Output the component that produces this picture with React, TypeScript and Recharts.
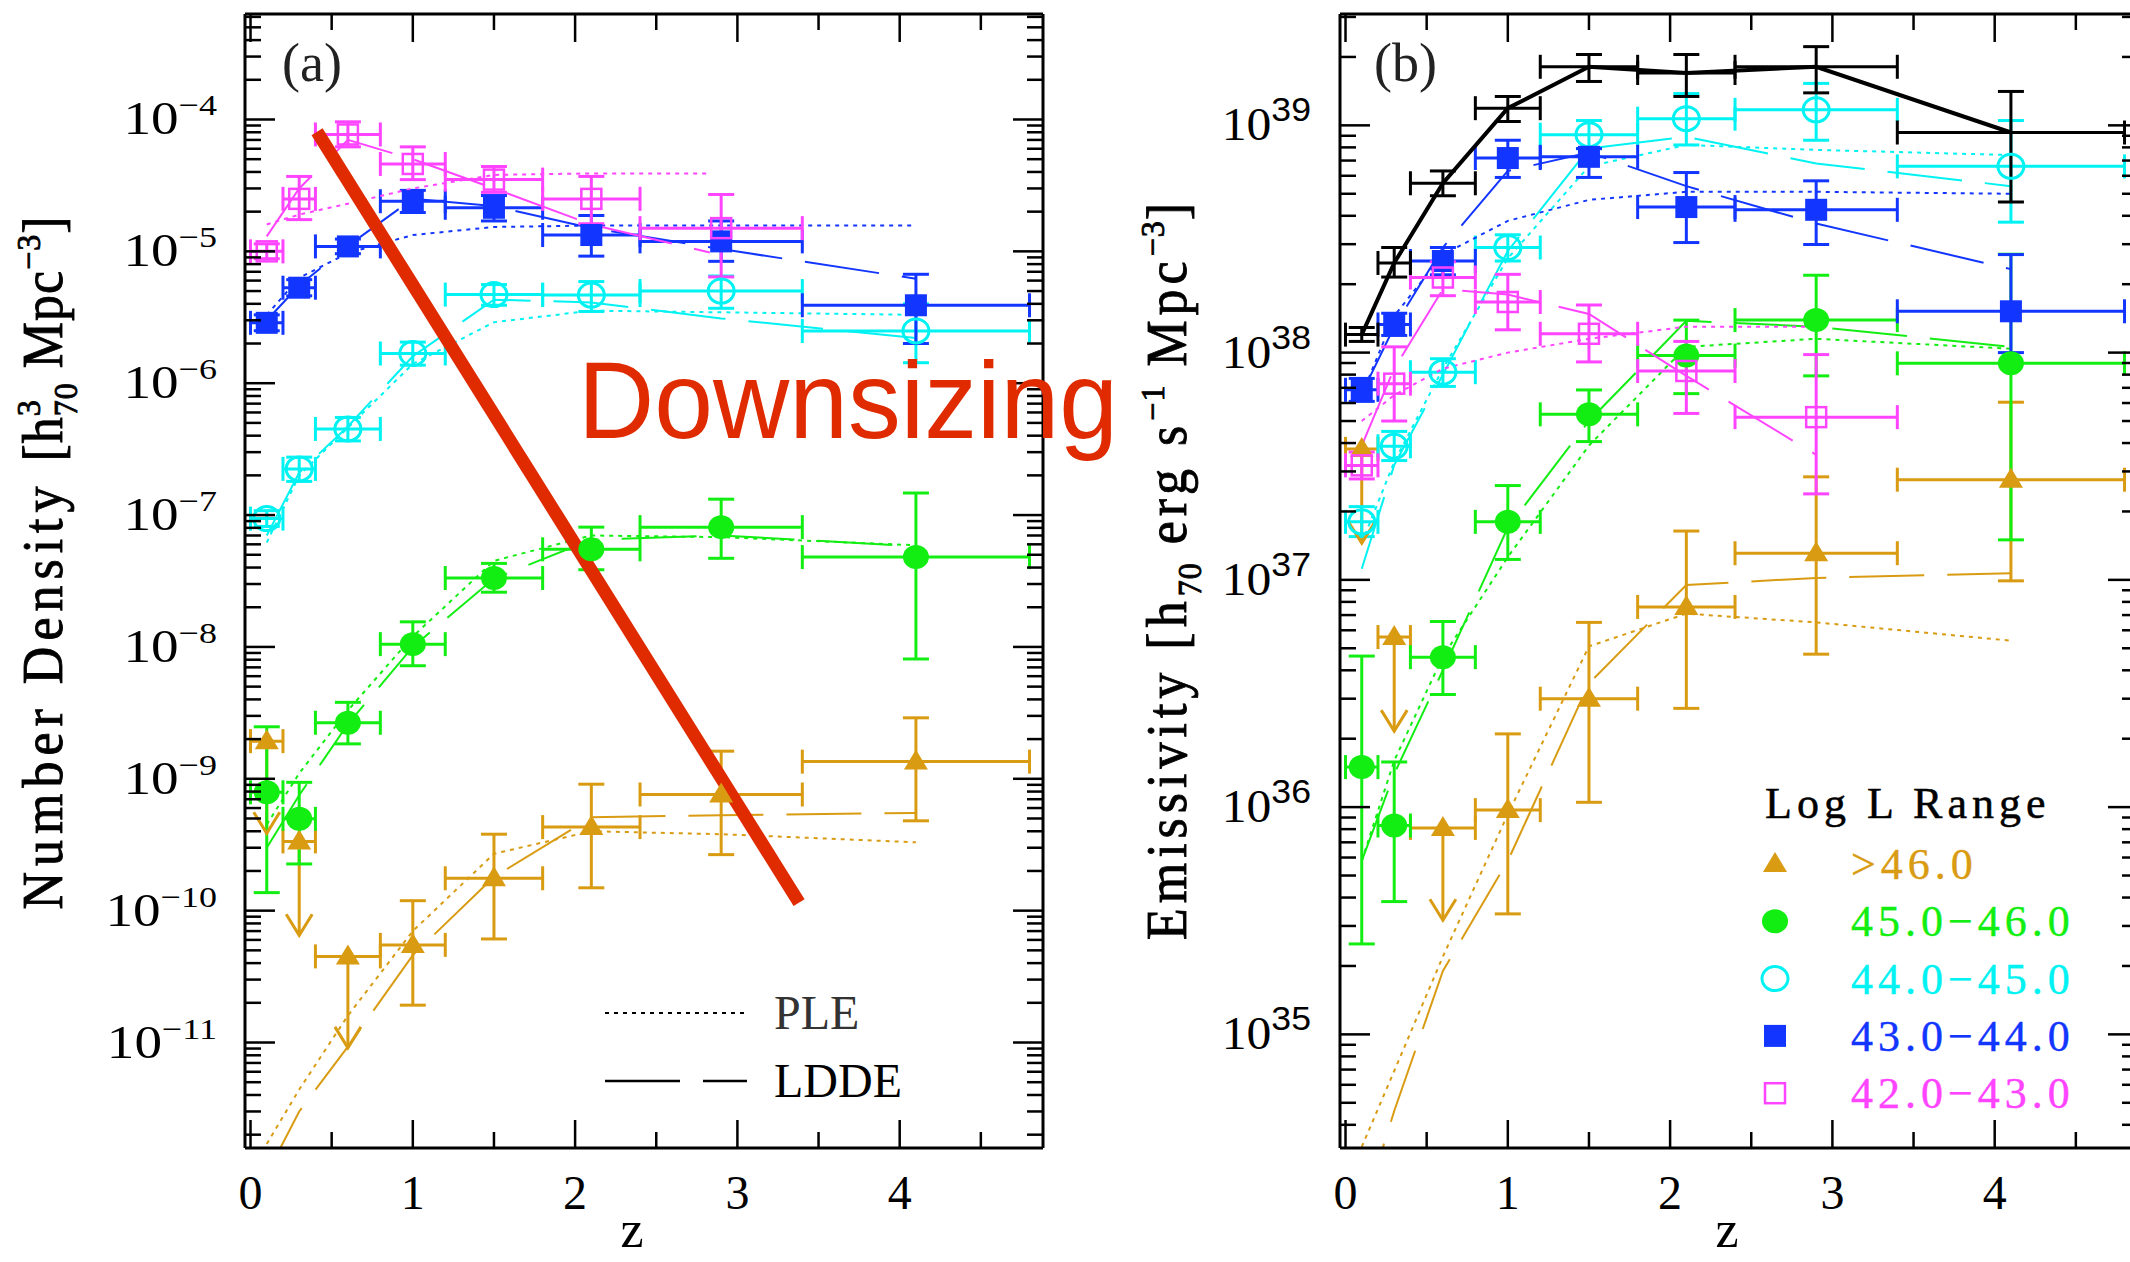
import React from "react";
import { ComposedChart, Scatter, Line, XAxis, YAxis, ErrorBar } from "recharts";

// redshift bins shared by every luminosity band
const zMid = [0.1, 0.3, 0.6, 1.0, 1.5, 2.1, 2.9, 4.1];
const zLo = [0, 0.2, 0.4, 0.8, 1.2, 1.8, 2.4, 3.4];
const zHi = [0.2, 0.4, 0.8, 1.2, 1.8, 2.4, 3.4, 4.8];
const zModel = [0.1, 0.3, 0.6, 1.0, 1.5, 2.1, 2.9, 4.1];
const zModel42a = [0.1, 0.3, 0.6, 1.0, 1.5, 2.1, 2.83];
const zModel42b = [0.1, 0.3, 0.6, 1.0, 1.5, 2.1, 2.9];
const upperLim46 = [true, true, true, false, false, false, false, false];

// (a) number density
const nd42 = [1.0e-5, 2.5e-5, 7.7e-5, 4.6e-5, 3.5e-5, 2.5e-5, 1.5e-5];
const nd42Lo = [8.8e-6, 1.74e-5, 6.2e-5, 3.5e-5, 2.8e-5, 1.62e-5, 6.4e-6];
const nd42Hi = [1.14e-5, 3.7e-5, 9.6e-5, 6.2e-5, 4.4e-5, 3.7e-5, 2.7e-5];
const nd43 = [2.87e-6, 5.3e-6, 1.09e-5, 2.4e-5, 2.14e-5, 1.33e-5, 1.19e-5, 3.9e-6];
const nd43Lo = [2.5e-6, 4.6e-6, 9.6e-6, 1.97e-5, 1.7e-5, 9.2e-6, 8.4e-6, 2.0e-6];
const nd43Hi = [3.3e-6, 6.1e-6, 1.24e-5, 2.9e-5, 2.65e-5, 1.87e-5, 1.7e-5, 6.7e-6];
const nd44 = [9.4e-8, 2.24e-7, 4.5e-7, 1.68e-6, 4.7e-6, 4.66e-6, 5.0e-6, 2.49e-6];
const nd44Lo = [8.2e-8, 1.8e-7, 3.65e-7, 1.37e-6, 3.9e-6, 3.5e-6, 3.7e-6, 1.43e-6];
const nd44Hi = [1.08e-7, 2.75e-7, 5.5e-7, 2.05e-6, 5.6e-6, 5.9e-6, 6.5e-6, 4.0e-6];
const nd45 = [7.9e-10, 4.97e-10, 2.66e-9, 1.05e-8, 3.33e-8, 5.5e-8, 8.1e-8, 4.8e-8];
const nd45Lo = [1.37e-10, 2.26e-10, 1.84e-9, 7.2e-9, 2.6e-8, 3.85e-8, 4.7e-8, 8.1e-9];
const nd45Hi = [2.48e-9, 9.4e-10, 3.8e-9, 1.55e-8, 4.3e-8, 8.1e-8, 1.32e-7, 1.47e-7];
const nd46 = [1.93e-9, 3.35e-10, 4.5e-11, 5.5e-11, 1.76e-10, 4.3e-10, 7.6e-10, 1.35e-9];
const nd46Lo = [3.86e-10, 6.5e-11, 9.1e-12, 1.92e-11, 6.1e-11, 1.49e-10, 2.66e-10, 4.8e-10];
const nd46Hi = [1.93e-9, 3.35e-10, 4.5e-11, 1.19e-10, 3.8e-10, 9.1e-10, 1.62e-9, 2.9e-9];

const ple42 = [1.6e-5, 1.9e-5, 2.3e-5, 3.0e-5, 3.8e-5, 3.9e-5, 3.9e-5];
const ldde42 = [1.3e-5, 3.0e-5, 7.0e-5, 5.0e-5, 3.0e-5, 1.6e-5, 9.8e-6];
const ple43 = [3.3e-6, 6.3e-6, 9.7e-6, 1.33e-5, 1.53e-5, 1.57e-5, 1.57e-5, 1.57e-5];
const ldde43 = [3.0e-6, 5.5e-6, 1.1e-5, 2.5e-5, 2.2e-5, 1.5e-5, 1.04e-5, 6.2e-6];
const ple44 = [6.2e-8, 2.0e-7, 4.6e-7, 1.4e-6, 2.9e-6, 3.55e-6, 3.45e-6, 3.3e-6];
const ldde44 = [7.0e-8, 2.1e-7, 4.7e-7, 1.6e-6, 4.3e-6, 4.1e-6, 3.1e-6, 2.2e-6];
const ple45 = [4.5e-10, 1.1e-9, 3.3e-9, 1.2e-8, 4.5e-8, 7.0e-8, 6.8e-8, 5.9e-8];
const ldde45 = [3.0e-10, 7.5e-10, 2.6e-9, 1.0e-8, 3.3e-8, 6.5e-8, 7.0e-8, 5.8e-8];
const ple46 = [1.7e-12, 4.4e-12, 1.6e-11, 7.0e-11, 2.7e-10, 4.0e-10, 3.8e-10, 3.3e-10];
const ldde46 = [1.0e-12, 3.0e-12, 9.3e-12, 4.6e-11, 1.8e-10, 5.1e-10, 5.3e-10, 5.5e-10];

const downZ = [0.41, 3.38];
const downV = [8.07e-5, 1.15e-10];

// (b) emissivity
const emTot = [1.2e38, 2.48e38, 5.56e38, 1.19e39, 1.81e39, 1.7e39, 1.81e39, 9.3e38];
const emTotLo = [1.12e38, 2.15e38, 4.9e38, 1.04e39, 1.56e39, 1.34e39, 1.39e39, 4.6e38];
const emTotHi = [1.29e38, 2.9e38, 6.3e38, 1.34e39, 2.05e39, 2.05e39, 2.22e39, 1.41e39];
const em42 = [3.19e37, 7.3e37, 2.14e38, 1.67e38, 1.21e38, 8.3e37, 5.2e37];
const em42Lo = [2.78e37, 5.0e37, 1.78e38, 1.26e38, 9.1e37, 5.4e37, 2.39e37];
const em42Hi = [3.65e37, 1.06e38, 2.51e38, 2.21e38, 1.62e38, 1.12e38, 9.8e37];
const em43 = [6.86e37, 1.33e38, 2.53e38, 7.18e38, 7.27e38, 4.37e38, 4.25e38, 1.52e38];
const em43Lo = [6.1e37, 1.19e38, 2.2e38, 5.9e38, 5.9e38, 3.05e38, 2.99e38, 1.0e38];
const em43Hi = [7.7e37, 1.49e38, 2.9e38, 8.6e38, 7.9e38, 6.2e38, 5.7e38, 2.7e38];
const em44 = [1.8e37, 3.87e37, 8.2e37, 2.9e38, 9.1e38, 1.07e39, 1.17e39, 6.6e38];
const em44Lo = [1.55e37, 3.35e37, 7.1e37, 2.53e38, 7.9e38, 8.2e38, 8.6e38, 3.75e38];
const em44Hi = [2.1e37, 4.5e37, 9.4e37, 3.3e38, 1.05e39, 1.38e39, 1.53e39, 1.05e39];
const em45 = [1.5e36, 8.3e35, 4.57e36, 1.8e37, 5.35e37, 9.7e37, 1.39e38, 8.97e37];
const em45Lo = [2.5e35, 3.84e35, 3.13e36, 1.23e37, 4.06e37, 6.6e37, 7.9e37, 1.5e37];
const em45Hi = [4.62e36, 1.58e36, 6.56e36, 2.6e37, 6.85e37, 1.39e38, 2.19e38, 2.71e38];
const em46 = [3.77e37, 5.6e36, 8.1e35, 9.7e35, 3.0e36, 7.6e36, 1.31e37, 2.76e37];
const em46Lo = [1.45e37, 2.16e36, 3.18e35, 3.39e35, 1.05e36, 2.72e36, 4.71e36, 9.9e36];
const em46Hi = [3.77e37, 5.6e36, 8.1e35, 2.1e36, 6.5e36, 1.64e37, 2.84e37, 6.05e37];

const ple42b = [5.0e37, 6.5e37, 8.5e37, 1.0e38, 1.15e38, 1.3e38, 1.3e38];
const ldde42b = [3.9e37, 8.5e37, 1.9e38, 1.8e38, 1.48e38, 7.9e37, 3.55e37];
const ple43b = [6.5e37, 1.45e38, 2.7e38, 3.8e38, 4.7e38, 5.1e38, 5.1e38, 5.0e38];
const ldde43b = [6.6e37, 1.3e38, 2.9e38, 6.3e38, 7.6e38, 5.4e38, 3.7e38, 2.33e38];
const ple44b = [1.45e37, 3.3e37, 8.5e37, 2.6e38, 6.6e38, 8.2e38, 7.8e38, 7.4e38];
const ldde44b = [1.12e37, 3.2e37, 8.0e37, 2.8e38, 7.9e38, 8.9e38, 6.8e38, 5.4e38];
const ple45b = [5.8e35, 1.6e36, 4.6e36, 1.26e37, 3.9e37, 1.06e38, 1.15e38, 1.04e38];
const ldde45b = [5.8e35, 1.4e36, 4.0e36, 1.7e37, 5.0e37, 1.38e38, 1.3e38, 1.06e38];
const ple46b = [3.2e34, 6.9e34, 2.2e35, 9.3e35, 5.1e36, 7.1e36, 6.5e36, 5.4e36];
const ldde46b = [1.6e34, 4.6e34, 1.9e35, 5.8e35, 3.5e36, 9.5e36, 1.02e37, 1.07e37];

const xTicks = [0, 0.5, 1, 1.5, 2, 2.5, 3, 3.5, 4, 4.5];
const decadesA = [-12, -11, -10, -9, -8, -7, -6, -5, -4, -3];
const decadesB = [34, 35, 36, 37, 38, 39];
const legendLabels = [">46.0", "45.0\u221246.0", "44.0\u221245.0", "43.0\u221244.0", "42.0\u221243.0"];

const C46 = "#d99b12";
const C45 = "#12ee12";
const C44 = "#00f2f2";
const C43 = "#1236ff";
const C42 = "#ff44ff";
const RED = "#e02a00";
const SERIF = "'Liberation Serif', serif";

const X_DOMAIN = [-0.034, 4.883];
const A_DOMAIN = [10 ** -11.8, 10 ** -3.2];
const B_DOMAIN = [10 ** 34.5, 10 ** 39.49];

const minorTicks = (decs, dom) =>
  decs
    .flatMap((d) => [1, 2, 3, 4, 5, 6, 7, 8, 9].map((m) => m * 10 ** d))
    .filter((t) => t >= dom[0] && t <= dom[1]);

const isDecade = (v) => Math.abs(Math.log10(v) - Math.round(Math.log10(v))) < 1e-6;

function points(v, lo, hi, lim?) {
  return v.map((val, i) => ({
    z: zMid[i],
    v: val,
    ey: lim && lim[i] ? null : [val - lo[i], hi[i] - val],
    ex: [zMid[i] - zLo[i], zHi[i] - zMid[i]],
  }));
}

const curve = (zs, vs) => zs.map((z, i) => ({ z, v: vs[i] }));

function Marker({ kind, color, cx, cy }) {
  if (cx == null || cy == null) return <g />;
  if (kind === "tri")
    return <polygon points={`${cx},${cy - 12} ${cx - 12},${cy + 8} ${cx + 12},${cy + 8}`} fill={color} />;
  if (kind === "dot") return <ellipse cx={cx} cy={cy} rx={13} ry={12} fill={color} />;
  if (kind === "ring")
    return <ellipse cx={cx} cy={cy} rx={13} ry={12} fill="none" stroke={color} strokeWidth={3} />;
  if (kind === "sq") return <rect x={cx - 11} y={cy - 11} width={22} height={22} fill={color} />;
  if (kind === "osq")
    return <rect x={cx - 10} y={cy - 10} width={20} height={20} fill="none" stroke={color} strokeWidth={2.5} />;
  return <g />;
}

function bandItems(key, b) {
  const items = [];
  const ax = { xAxisId: "b", yAxisId: "l", isAnimationActive: false };
  items.push(
    <Line key={key + "ple"} {...ax} data={curve(b.zm, b.ple)} dataKey="v" stroke={b.color}
      strokeWidth={2} strokeDasharray="4 5" dot={false} activeDot={false} />,
    <Line key={key + "ldde"} {...ax} data={curve(b.zm, b.ldde)} dataKey="v" stroke={b.color}
      strokeWidth={2} strokeDasharray="75 23" dot={false} activeDot={false} />
  );
  if (b.lim) {
    b.lim.forEach((l, i) => {
      if (!l) return;
      items.push(
        <Line key={key + "lim" + i} {...ax}
          data={[{ z: zMid[i], v: b.v[i] }, { z: zMid[i], v: b.lo[i], tip: true }]}
          dataKey="v" stroke={b.color} strokeWidth={3} activeDot={false}
          dot={(p) =>
            p.payload.tip ? (
              <path key={"t" + p.index} d={`M${p.cx - 13},${p.cy - 21} L${p.cx},${p.cy} L${p.cx + 13},${p.cy - 21}`}
                fill="none" stroke={b.color} strokeWidth={3} />
            ) : (
              <g key={"n" + p.index} />
            )
          }
        />
      );
    });
  }
  items.push(
    <Scatter key={key + "pts"} {...ax} data={points(b.v, b.lo, b.hi, b.lim)} dataKey="v"
      shape={(p) => <Marker kind={b.kind} color={b.color} cx={p.cx} cy={p.cy} />}>
      <ErrorBar dataKey="ey" direction="y" width={13} stroke={b.color} strokeWidth={3} isAnimationActive={false} />
      <ErrorBar dataKey="ex" direction="x" width={12} stroke={b.color} strokeWidth={3} isAnimationActive={false} />
    </Scatter>
  );
  return items;
}

function LeftTick({ x, y, payload, expFont, expSize, gap, sx }) {
  const v = payload.value;
  const major = isDecade(v);
  const e = Math.round(Math.log10(v));
  return (
    <g>
      <line x1={x} x2={x + (major ? 30 : 16)} y1={y} y2={y} stroke="#000" strokeWidth={2.5} />
      {major && (
        <text transform={`translate(${x - gap},${y + 15}) scale(${sx},1)`} textAnchor="end"
          fontFamily={SERIF} fontSize={46} fill="#000">
          10
          <tspan dy={-19} fontSize={expSize} fontFamily={expFont}>
            {e < 0 ? "\u2212" + -e : String(e)}
          </tspan>
        </text>
      )}
    </g>
  );
}

function RightTick({ x, y, payload }) {
  const major = isDecade(payload.value);
  return <line x1={x} x2={x - (major ? 30 : 16)} y1={y} y2={y} stroke="#000" strokeWidth={2.5} />;
}

function BottomTick({ x, y, payload }) {
  const v = payload.value;
  const major = Number.isInteger(v);
  return (
    <g>
      <line x1={x} x2={x} y1={y} y2={y - (major ? 28 : 16)} stroke="#000" strokeWidth={2.5} />
      {major && (
        <text x={x} y={y + 61} textAnchor="middle" fontFamily={SERIF} fontSize={48} fill="#000">
          {v}
        </text>
      )}
    </g>
  );
}

function TopTick({ x, y, payload }) {
  const major = Number.isInteger(payload.value);
  return <line x1={x} x2={x} y1={y} y2={y + (major ? 28 : 16)} stroke="#000" strokeWidth={2.5} />;
}

function axes(yDomain, yTicks, leftW, rightW, lab) {
  const axisLine = { stroke: "#000", strokeWidth: 3 };
  const common = { tickSize: 0, tickMargin: 0, tickLine: false, interval: 0, allowDataOverflow: true, axisLine };
  return [
    <XAxis key="xb" xAxisId="b" orientation="bottom" type="number" dataKey="z" domain={X_DOMAIN}
      ticks={xTicks} height={114} tick={BottomTick} {...common} />,
    <XAxis key="xt" xAxisId="t" orientation="top" type="number" dataKey="z" domain={X_DOMAIN}
      ticks={xTicks} height={14} tick={TopTick} {...common} />,
    <YAxis key="yl" yAxisId="l" orientation="left" type="number" scale="log" dataKey="v" domain={yDomain}
      ticks={yTicks} width={leftW} tick={(p) => <LeftTick {...p} {...lab} />} {...common} />,
    <YAxis key="yr" yAxisId="r" orientation="right" type="number" scale="log" dataKey="v" domain={yDomain}
      ticks={yTicks} width={rightW} tick={RightTick} {...common} />,
  ];
}

const bandsA = [
  { kind: "tri", color: C46, v: nd46, lo: nd46Lo, hi: nd46Hi, lim: upperLim46, zm: zModel, ple: ple46, ldde: ldde46 },
  { kind: "dot", color: C45, v: nd45, lo: nd45Lo, hi: nd45Hi, zm: zModel, ple: ple45, ldde: ldde45 },
  { kind: "ring", color: C44, v: nd44, lo: nd44Lo, hi: nd44Hi, zm: zModel, ple: ple44, ldde: ldde44 },
  { kind: "sq", color: C43, v: nd43, lo: nd43Lo, hi: nd43Hi, zm: zModel, ple: ple43, ldde: ldde43 },
  { kind: "osq", color: C42, v: nd42, lo: nd42Lo, hi: nd42Hi, zm: zModel42a, ple: ple42, ldde: ldde42 },
];

const bandsB = [
  { kind: "tri", color: C46, v: em46, lo: em46Lo, hi: em46Hi, lim: upperLim46, zm: zModel, ple: ple46b, ldde: ldde46b },
  { kind: "dot", color: C45, v: em45, lo: em45Lo, hi: em45Hi, zm: zModel, ple: ple45b, ldde: ldde45b },
  { kind: "ring", color: C44, v: em44, lo: em44Lo, hi: em44Hi, zm: zModel, ple: ple44b, ldde: ldde44b },
  { kind: "sq", color: C43, v: em43, lo: em43Lo, hi: em43Hi, zm: zModel, ple: ple43b, ldde: ldde43b },
  { kind: "osq", color: C42, v: em42, lo: em42Lo, hi: em42Hi, zm: zModel42b, ple: ple42b, ldde: ldde42b },
];

function DensityPanel() {
  return (
    <ComposedChart width={1080} height={1262} margin={{ top: 0, right: 0, bottom: 0, left: 0 }}>
      {axes(A_DOMAIN, minorTicks(decadesA, A_DOMAIN), 245, 37, { expFont: SERIF, expSize: 30, gap: 28, sx: 1.2 })}
      {bandsA.flatMap((b, i) => bandItems("a" + i, b))}
      <Line xAxisId="b" yAxisId="l" isAnimationActive={false} data={curve(downZ, downV)} dataKey="v"
        stroke={RED} strokeWidth={13} dot={false} activeDot={false} />
    </ComposedChart>
  );
}

function EmissivityPanel() {
  const tot = points(emTot, emTotLo, emTotHi);
  return (
    <ComposedChart width={1068} height={1262} margin={{ top: 0, right: 0, bottom: 0, left: 0 }}>
      {axes(B_DOMAIN, minorTicks(decadesB, B_DOMAIN), 240, 30,
        { expFont: "'Liberation Sans', sans-serif", expSize: 33, gap: 29, sx: 1.08 })}
      {bandsB.flatMap((b, i) => bandItems("b" + i, b))}
      <Line xAxisId="b" yAxisId="l" isAnimationActive={false} data={tot} dataKey="v" stroke="#000"
        strokeWidth={4} dot={false} activeDot={false} />
      <Scatter xAxisId="b" yAxisId="l" isAnimationActive={false} data={tot} dataKey="v" shape={() => <g />}>
        <ErrorBar dataKey="ey" direction="y" width={13} stroke="#000" strokeWidth={3} isAnimationActive={false} />
        <ErrorBar dataKey="ex" direction="x" width={12} stroke="#000" strokeWidth={3} isAnimationActive={false} />
      </Scatter>
    </ComposedChart>
  );
}

function Overlay() {
  const legendKinds = ["tri", "dot", "ring", "sq", "osq"];
  const legendColors = [C46, C45, C44, C43, C42];
  const sup = { fontSize: 32, letterSpacing: 1 };
  const title = { fontFamily: SERIF, fontSize: 52, stroke: "#000", strokeWidth: 0.8, textAnchor: "middle" };
  return (
    <svg width={2130} height={1262} style={{ position: "absolute", left: 0, top: 0, pointerEvents: "none" }}>
      <text x={282} y={81} fontFamily={SERIF} fontSize={54} fill="#222">(a)</text>
      <text x={1374} y={81} fontFamily={SERIF} fontSize={54} fill="#222">(b)</text>
      <text x={578} y={438} fontFamily="'Liberation Sans', sans-serif" fontSize={110} fill={RED}
        textLength={540} lengthAdjust="spacingAndGlyphs">Downsizing</text>

      <text x={632} y={1247} textAnchor="middle" fontFamily={SERIF} fontSize={52}>z</text>
      <text x={1727} y={1247} textAnchor="middle" fontFamily={SERIF} fontSize={52}>z</text>

      <text transform="translate(62,563) rotate(-90) scale(1,1.08)" {...title}>
        <tspan letterSpacing={6}>Number Density </tspan>
        <tspan letterSpacing={1}> [h</tspan>
        <tspan dy={-20} {...sup}>3</tspan>
        <tspan dx={-17} dy={34} {...sup}>70</tspan>
        <tspan dy={-14} letterSpacing={1}> Mpc</tspan>
        <tspan dy={-20} {...sup}>{"\u22123"}</tspan>
        <tspan dy={20}>]</tspan>
      </text>
      <text transform="translate(1186,569) rotate(-90) scale(1,1.08)" {...title} letterSpacing={5}>
        Emissivity  [h
        <tspan dy={14} {...sup}>70</tspan>
        <tspan dy={-14}> erg s</tspan>
        <tspan dy={-20} {...sup}>{"\u22121"}</tspan>
        <tspan dy={20}> Mpc</tspan>
        <tspan dy={-20} {...sup}>{"\u22123"}</tspan>
        <tspan dy={20}>]</tspan>
      </text>

      <line x1={605} x2={747} y1={1013} y2={1013} stroke="#000" strokeWidth={2} strokeDasharray="4 5" />
      <text x={774} y={1029} fontFamily={SERIF} fontSize={48} fill="#333">PLE</text>
      <line x1={605} x2={747} y1={1081} y2={1081} stroke="#000" strokeWidth={2.5} strokeDasharray="75 23" />
      <text x={774} y={1097} fontFamily={SERIF} fontSize={48} fill="#000">LDDE</text>

      <text x={1765} y={818} fontFamily={SERIF} fontSize={44} letterSpacing={5} fill="#000"
        stroke="#000" strokeWidth={0.5}>Log L Range</text>
      {legendLabels.map((lab, i) => {
        const cy = 864 + i * 57.3;
        return (
          <g key={lab}>
            <Marker kind={legendKinds[i]} color={legendColors[i]} cx={1775} cy={cy} />
            <text x={1851} y={cy + 15} fontFamily={SERIF} fontSize={44} letterSpacing={5}
              fill={legendColors[i]} stroke={legendColors[i]} strokeWidth={0.4}>{lab}</text>
          </g>
        );
      })}
    </svg>
  );
}

export default function App() {
  return (
    <div style={{ position: "absolute", left: 0, top: 0, width: 2130, height: 1262, overflow: "hidden", background: "#fff" }}>
      <div style={{ position: "absolute", left: 0, top: 0 }}>
        <DensityPanel />
      </div>
      <div style={{ position: "absolute", left: 1100, top: 0 }}>
        <EmissivityPanel />
      </div>
      <Overlay />
    </div>
  );
}
